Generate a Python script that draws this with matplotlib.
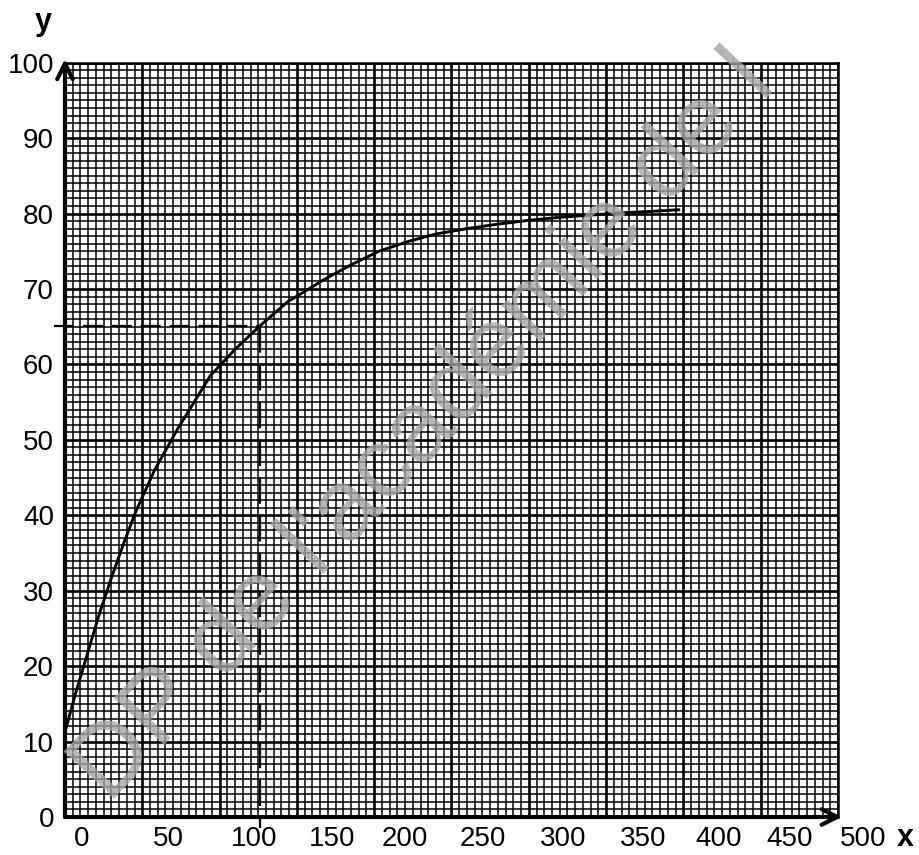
import numpy as np
import matplotlib.pyplot as plt
from matplotlib.transforms import ScaledTranslation

# curve (x in grid units 0..500, y in 0..100)
x_vals = [0, 7, 14, 22, 30, 38, 46, 58, 73, 94, 110, 126, 144, 168, 185,
          203, 222, 240, 260, 280, 300, 320, 340, 360, 380, 397]
y_vals = [11.3, 16.5, 21.3, 26.8, 31.7, 36.3, 40.6, 46.0, 51.5, 58.5, 62.0,
          65.1, 68.3, 71.3, 73.2, 75.0, 76.3, 77.3, 78.0, 78.6, 79.1, 79.5,
          79.8, 80.1, 80.3, 80.5]

# dashed reading lines
x_mark = 126
y_mark = 65.1

x_ticks = [0, 50, 100, 150, 200, 250, 300, 350, 400, 450, 500]
x_labels = ['0', '50', '100', '150', '200', '250', '300', '350', '400', '450', '500']
# labels on the sheet are shifted right of their grid lines (pixels)
x_label_shift = [17, 26, 35, 35, 31, 31, 34, 37, 35, 29, 25]
y_ticks = [0, 10, 20, 30, 40, 50, 60, 70, 80, 90, 100]

plt.rcParams['font.family'] = ['Liberation Sans', 'DejaVu Sans']

fig = plt.figure(figsize=(9.2, 8.55), dpi=100)
ax = fig.add_axes([65 / 920, 1 - 817 / 855, (838 - 65) / 920, (817 - 62.7) / 855])
ax.set_xlim(0, 500)
ax.set_ylim(0, 100)

# graph paper
ax.set_xticks(np.arange(0, 501, 50))
ax.set_xticks(np.arange(0, 501, 5), minor=True)
ax.set_yticks(y_ticks)
ax.set_yticks(np.arange(0, 101, 1), minor=True)
ax.grid(which='minor', color='black', lw=1.1, zorder=0)
ax.grid(which='major', color='black', lw=1.9, zorder=0)
ax.set_axisbelow(True)
ax.tick_params(which='both', length=0)
ax.tick_params(axis='x', labelbottom=False)
ax.tick_params(axis='y', labelsize=20, pad=8)
for s in ['left', 'bottom']:
    ax.spines[s].set_visible(False)
for s in ['top', 'right']:
    ax.spines[s].set_linewidth(1.8)

# watermark
fig.text(0.462, 0.50, "DP de l'académie de l", rotation=47, fontsize=73,
         color='#a4a4a4', alpha=0.8,
         ha='center', va='center', zorder=1)

# curve and dashed lines
ax.plot(x_vals, y_vals, color='black', lw=2.1, zorder=5)
ax.plot([-7, x_mark], [y_mark, y_mark], color='black', lw=1.6,
        dashes=(9, 4), clip_on=False, zorder=5)
ax.plot([x_mark, x_mark], [y_mark, -1.5], color='black', lw=1.6,
        dashes=(12, 5), clip_on=False, zorder=5)

# axes with arrows
ax.annotate('', xy=(0, 1.005), xytext=(0, 0), xycoords='axes fraction',
            arrowprops=dict(arrowstyle='->', lw=3, color='black',
                            mutation_scale=28, shrinkA=0, shrinkB=0),
            zorder=6)
ax.annotate('', xy=(1.005, 0), xytext=(0, 0), xycoords='axes fraction',
            arrowprops=dict(arrowstyle='->', lw=3, color='black',
                            mutation_scale=28, shrinkA=0, shrinkB=0),
            zorder=6)

# x tick labels
for v, lab, dx in zip(x_ticks, x_labels, x_label_shift):
    tr = ax.get_xaxis_transform() + ScaledTranslation(dx / 100, -9 / 100, fig.dpi_scale_trans)
    ax.text(v, 0, lab, transform=tr, ha='center', va='top', fontsize=20,
            clip_on=False)

fig.text(905 / 920, 1 - 838 / 855, 'x', fontsize=22, fontweight='bold',
         ha='center', va='center')
fig.text(43 / 920, 1 - 22 / 855, 'y', fontsize=22, fontweight='bold',
         ha='center', va='center')

fig.savefig('out.png', dpi=100)
